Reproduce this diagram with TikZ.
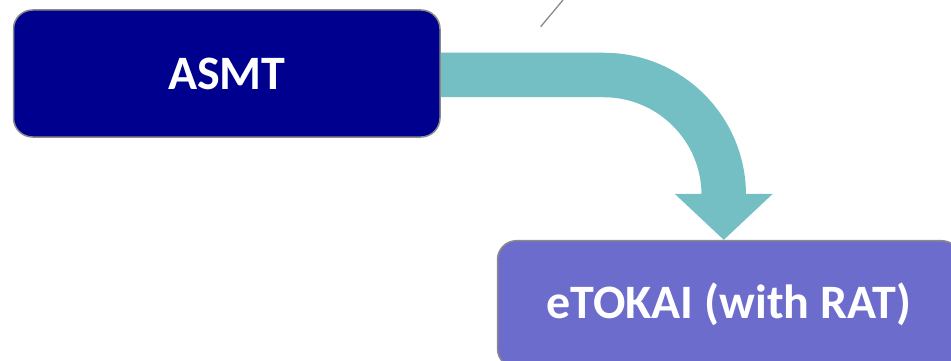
\documentclass[tikz,border=0pt]{standalone}
\usepackage{fontspec}
\setmainfont{Carlito}
\usetikzlibrary{arrows.meta,backgrounds}
\definecolor{navybox}{HTML}{00008F}
\definecolor{purplebox}{HTML}{6C6CCD}
\definecolor{tealarrow}{HTML}{73BFC4}
\definecolor{edgegray}{HTML}{8A8A8A}
\tikzset{
  box/.style={draw=edgegray, line width=1.5pt, rounded corners=19pt, inner sep=0pt,
    text=white, font=\fontsize{48}{52}\selectfont\bfseries, anchor=center},
  bigarrow/.style={draw=tealarrow, line width=44.5pt,
    -{Triangle[length=46pt,width=95pt,fill=tealarrow,color=tealarrow]}}
}
\begin{document}
\begin{tikzpicture}[x=1pt,y=1pt]
\useasboundingbox (0,0) rectangle (951,-361);
\node[box, fill=navybox, minimum width=426.5pt, minimum height=127pt] (asmt) at (226.75,-73.5) {ASMT};
\node[box, fill=purplebox, minimum width=463pt, minimum height=127pt] (etokai) at (729,-304.2) {eTOKAI (with RAT)};
\path (asmt.east) ++(283,-121.5) coordinate (bend);
\begin{pgfonlayer}{background}
\draw[bigarrow] ([yshift=-1.5pt]asmt.east) -- ++(163,0) arc[start angle=90, end angle=0, radius=120] -- (bend |- etokai.north);
\end{pgfonlayer}
\coordinate (lnA) at (540.7,-26.7);
\coordinate (lnB) at (563,0);
\draw[edgegray, line width=1.3pt] (lnA) -- (lnB);
\end{tikzpicture}
\end{document}
